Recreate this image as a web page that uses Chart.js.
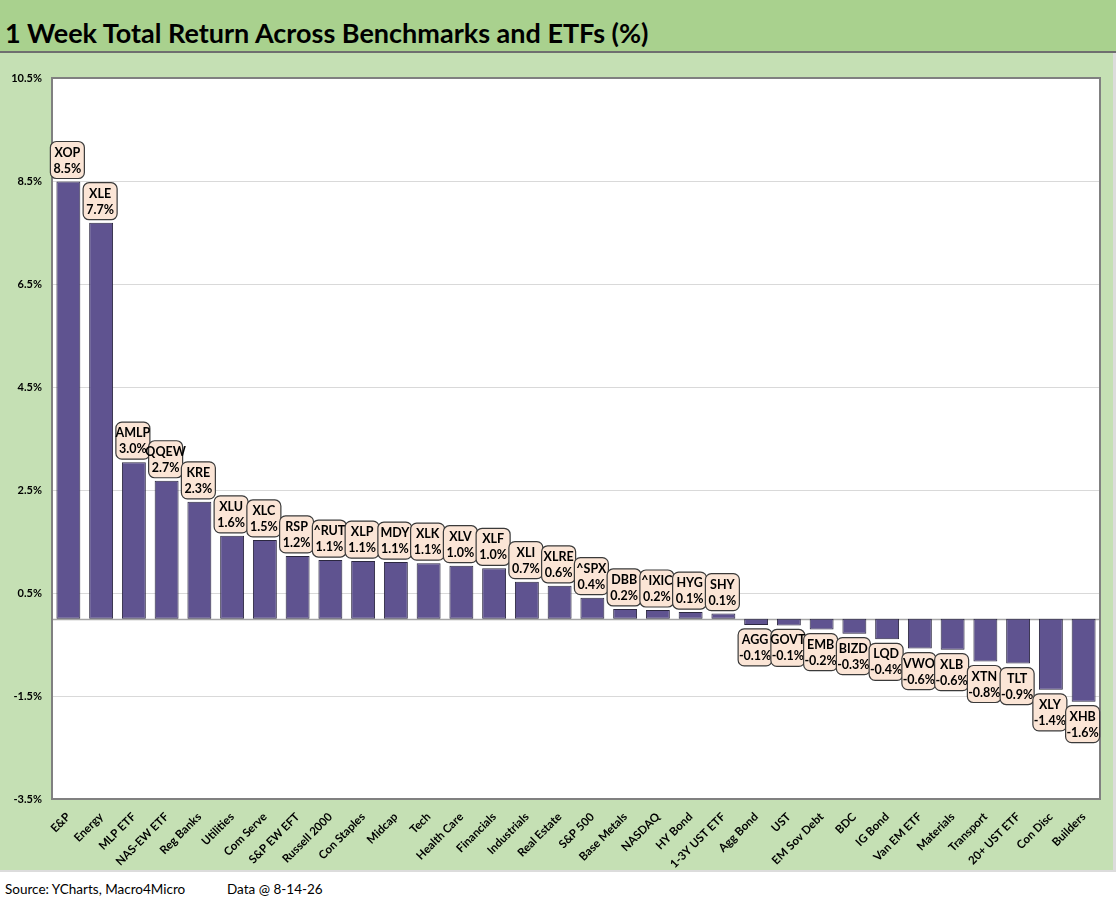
<!DOCTYPE html>
<html><head><meta charset="utf-8">
<script src="https://cdn.jsdelivr.net/npm/chart.js@4"></script>
<style>
html,body{margin:0;padding:0;background:#fff;width:1116px;height:911px;overflow:hidden;}
#title{position:absolute;left:0;top:0;width:1116px;height:51px;background:#a9d18e;border-bottom:2px solid #6f6f6f;}
#title span{position:absolute;left:5px;top:16px;font:bold 27px Lato,sans-serif;color:#000;white-space:nowrap;}
#wrap{position:absolute;left:0;top:53px;width:1113px;height:817px;background:#c5e0b4;border-right:3px solid #dcdcdc;border-bottom:2px solid #dcdcdc;}
#foot1{position:absolute;left:5px;top:881px;font:13.5px Lato,sans-serif;color:#000;}
#foot2{position:absolute;left:227px;top:881px;font:13.5px Lato,sans-serif;color:#000;}
</style></head>
<body>
<div id="title"><span>1 Week Total Return Across Benchmarks and ETFs (%)</span></div>
<div id="wrap"><canvas id="c" width="1113" height="817"></canvas></div>
<div id="foot1">Source: YCharts, Macro4Micro</div>
<div id="foot2">Data @ 8-14-26</div>
<script>
const categories = ["E&P","Energy","MLP ETF","NAS-EW ETF","Reg Banks","Utilities","Com Serve","S&P EW EFT","Russell 2000","Con Staples","Midcap","Tech","Health Care","Financials","Industrials","Real Estate","S&P 500","Base Metals","NASDAQ","HY Bond","1-3Y UST ETF","Agg Bond","UST","EM Sov Debt","BDC","IG Bond","Van EM ETF","Materials","Transport","20+ UST ETF","Con Disc","Builders"];
const tickers = ["XOP","XLE","AMLP","QQEW","KRE","XLU","XLC","RSP","^RUT","XLP","MDY","XLK","XLV","XLF","XLI","XLRE","^SPX","DBB","^IXIC","HYG","SHY","AGG","GOVT","EMB","BIZD","LQD","VWO","XLB","XTN","TLT","XLY","XHB"];
const values = [8.49,7.69,3.04,2.68,2.27,1.61,1.53,1.22,1.14,1.12,1.10,1.08,1.03,0.98,0.72,0.64,0.41,0.19,0.17,0.13,0.10,-0.12,-0.13,-0.21,-0.29,-0.40,-0.58,-0.60,-0.83,-0.87,-1.38,-1.61];
const yMin = -3.5, yMax = 10.5, yStep = 2;

const FONT = "Lato, sans-serif";

const plotPlugin = {
  id: 'plotBg',
  beforeDraw(chart){
    const {ctx, chartArea:a} = chart;
    ctx.save();
    ctx.fillStyle = '#ffffff';
    ctx.fillRect(a.left, a.top, a.right-a.left, a.bottom-a.top);
    ctx.restore();
  },
  beforeDatasetsDraw(chart){
    const {ctx, chartArea:a, scales} = chart;
    const y0 = Math.round(scales.y.getPixelForValue(0)) + 0.5;
    ctx.save();
    ctx.strokeStyle = '#a6a6a6';
    ctx.lineWidth = 1.5;
    ctx.beginPath(); ctx.moveTo(a.left, y0); ctx.lineTo(a.right, y0); ctx.stroke();
    ctx.strokeStyle = '#808080';
    ctx.lineWidth = 2;
    ctx.strokeRect(a.left, a.top, a.right-a.left, a.bottom-a.top);
    ctx.restore();
  },
  afterDatasetsDraw(chart){
    const ctx = chart.ctx;
    const meta = chart.getDatasetMeta(0);
    const w = 34, h = 37, r = 6;
    ctx.save();
    meta.data.forEach((bar,i)=>{
      const v = values[i];
      const cx = bar.x - 1;
      const top = v >= 0 ? bar.y - 3 - h : bar.y + 4;
      const left = cx - w/2;
      ctx.beginPath();
      ctx.roundRect(left, top, w, h, r);
      ctx.fillStyle = '#fbe5d6';
      ctx.fill();
      ctx.lineWidth = 1.2;
      ctx.strokeStyle = '#3a3a3a';
      ctx.stroke();
      ctx.fillStyle = '#000';
      ctx.font = 'bold 12.5px ' + FONT;
      ctx.textAlign = 'center';
      ctx.textBaseline = 'middle';
      ctx.fillText(tickers[i], cx, top + 11);
      ctx.fillText(v.toFixed(1) + '%', cx, top + 27);
    });
    ctx.restore();
  }
};

new Chart(document.getElementById('c'), {
  type: 'bar',
  data: {
    labels: categories,
    datasets: [{
      data: values,
      backgroundColor: '#5f5390',
      borderColor: '#2b2740',
      borderWidth: 1,
      borderSkipped: false,
      barPercentage: 0.73,
      categoryPercentage: 1.0
    }]
  },
  options: {
    responsive: false,
    animation: false,
    devicePixelRatio: 1,
    layout: { padding: { top: 25, right: 13, left: 0, bottom: 0 } },
    plugins: { legend: { display: false }, tooltip: { enabled: false } },
    scales: {
      x: {
        grid: { display: false },
        border: { display: false },
        ticks: {
          autoSkip: false, minRotation: 45, maxRotation: 45,
          color: '#000', font: { family: FONT, size: 11.5, weight: 'bold' }, padding: 3
        },
        afterFit(s){ s.height = 71; }
      },
      y: {
        min: yMin, max: yMax,
        grid: { color: '#d9d9d9', lineWidth: 1, drawTicks: false },
        border: { display: false },
        ticks: {
          stepSize: yStep, color: '#000', padding: 10,
          font: { family: FONT, size: 11, weight: 'bold' },
          callback: v => v.toFixed(1) + '%'
        },
        afterFit(s){ s.width = 52; }
      }
    }
  },
  plugins: [plotPlugin]
});
</script>
</body></html>
